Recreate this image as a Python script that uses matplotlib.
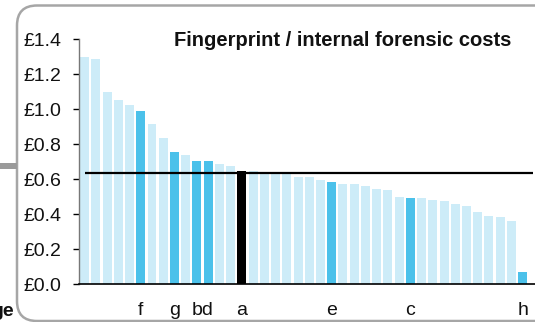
import matplotlib
matplotlib.use("Agg")
import matplotlib.pyplot as plt
from matplotlib.patches import FancyBboxPatch, Rectangle
import numpy as np

# ---- data ----
values = [1.300, 1.286, 1.100, 1.055, 1.023, 0.992, 0.914, 0.838, 0.756, 0.739,
          0.705, 0.705, 0.689, 0.678, 0.647, 0.647, 0.640, 0.638, 0.634, 0.615,
          0.615, 0.596, 0.583, 0.575, 0.571, 0.560, 0.543, 0.539, 0.497, 0.493,
          0.493, 0.482, 0.474, 0.461, 0.449, 0.415, 0.390, 0.385, 0.362, 0.070]
bar_ids = ['', '', '', '', '', 'f', '', '', 'g', '',
           'b', 'd', '', '', 'a', '', '', '', '', '',
           '', '', 'e', '', '', '', '', '', '', 'c',
           '', '', '', '', '', '', '', '', '', 'h']
tick_labels = ['f', 'g', 'bd', 'a', 'e', 'c', 'h']
reference_id = 'a'
average = 0.637
yticks = [0.0, 0.2, 0.4, 0.6, 0.8, 1.0, 1.2, 1.4]
title = "Fingerprint / internal forensic costs"

# ---- style ----
W, H, DPI = 535, 322, 100
light = '#cdecf8'
highlight = '#4bc1ea'
plt.rcParams['font.family'] = ['Liberation Sans', 'DejaVu Sans']

fig = plt.figure(figsize=(W / DPI, H / DPI), dpi=DPI)

# rounded frame and connector
frame = FancyBboxPatch((17 / DPI, (H - 321) / DPI), (560 - 17) / DPI, (321 - 5.5) / DPI,
                       boxstyle="round,pad=0,rounding_size=0.2",
                       transform=fig.dpi_scale_trans, fill=False,
                       edgecolor='#a6a6a6', linewidth=1.8, clip_on=False)
fig.patches.append(frame)
conn = Rectangle((0, (H - 168.5) / DPI), 17 / DPI, 5.5 / DPI,
                 transform=fig.dpi_scale_trans, facecolor='#9a9a9a',
                 edgecolor='none')
fig.patches.append(conn)

ax = fig.add_axes([79 / W, (H - 284.3) / H, (W - 79) / W, (284.3 - 39.3) / H])
x = np.arange(len(values))
colors = []
for b in bar_ids:
    if b == reference_id:
        colors.append('black')
    elif b:
        colors.append(highlight)
    else:
        colors.append(light)
ax.bar(x, values, width=0.8, color=colors, edgecolor='none', zorder=2)
ax.hlines(average, 0, len(values) - 0.1, color='black', linewidth=1.6, zorder=3)

ax.set_xlim(-0.5, 40.1)
ax.set_ylim(0, 1.4)
ax.set_yticks(yticks)
ax.set_yticklabels([f"£{v:.1f}" for v in yticks], fontsize=14, color='#111111')
ax.tick_params(axis='y', length=4, width=1, pad=8.4, color='black')

pos = [np.mean([i for i, b in enumerate(bar_ids) if b and b in lab]) for lab in tick_labels]
ax.set_xticks(pos)
ax.set_xticklabels(tick_labels, fontsize=14, color='#111111')
ax.tick_params(axis='x', length=0, pad=12.7)

for s in ['top', 'right']:
    ax.spines[s].set_visible(False)
ax.spines['left'].set_color('#777777')
ax.spines['left'].set_linewidth(1.0)
ax.spines['bottom'].set_color('black')
ax.spines['bottom'].set_linewidth(1.2)
ax.patch.set_alpha(0)

fig.text(342.5 / W, (H - 46.5) / H, title, ha='center', va='baseline',
         fontsize=14.5, fontweight='bold', color='#111111')
fig.text(14 / W, (H - 316) / H, "ge", ha='right', va='baseline',
         fontsize=14, fontweight='bold', color='#111111')

fig.savefig('out.png', dpi=DPI)
